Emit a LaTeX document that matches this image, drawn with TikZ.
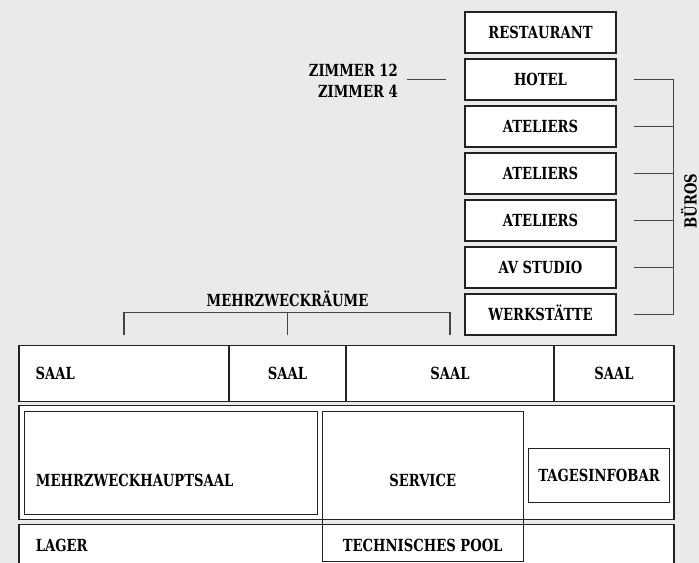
\documentclass[tikz,border=0pt]{standalone}
\usepackage{fontspec}
\setmainfont{DejaVu Serif}[FakeStretch=0.79]
\usetikzlibrary{calc}

\definecolor{hintergrund}{HTML}{EAEAEA}
\definecolor{linie}{HTML}{222222}
\definecolor{klammerlinie}{HTML}{444444}

\tikzset{
	mass/.style 2 args={minimum width=#1*0.75pt, minimum height=#2*0.75pt},
	raum/.style={draw=linie, fill=white, line width=0.8pt, inner sep=0pt,
		font=\bfseries\fontsize{12.5}{14}\selectfont, text height=9pt, text depth=0pt},
	schrift/.style={font=\bfseries\fontsize{12.5}{14}\selectfont, inner sep=0pt,
		text height=9pt, text depth=0pt},
	klammer/.style={draw=klammerlinie, line width=0.8pt},
}

\begin{document}
\begin{tikzpicture}[x=0.75pt, y=-0.75pt]
	\fill[hintergrund] (0,0) rectangle (699,563);
	\useasboundingbox (0,0) rectangle (699,563);

	% rechte Spalte
	\node[raum, mass={151}{41}] (restaurant) at (540.5,32.5) {RESTAURANT};
	\node[raum, mass={151}{41}] (hotel) at (540.5,79.5) {HOTEL};
	\node[raum, mass={151}{41}] (atelierA) at (540.5,126.5) {ATELIERS};
	\node[raum, mass={151}{41}] (atelierB) at (540.5,173.5) {ATELIERS};
	\node[raum, mass={151}{41}] (atelierC) at (540.5,220.5) {ATELIERS};
	\node[raum, mass={151}{41}] (avstudio) at (540.5,267.5) {AV STUDIO};
	\node[raum, mass={151}{41}] (werkstatt) at (540.5,314.5) {WERKSTÄTTE};

	\node[font=\bfseries\fontsize{12.5}{15.5}\selectfont, inner sep=0pt, align=right, anchor=east] (zimmer) at (398,81) {ZIMMER 12\\ZIMMER 4};
	\draw[klammer] ($(hotel.west)+(-57,0)$) -- ($(hotel.west)+(-18,0)$);

	% Klammer Bueros
	\coordinate (bOben) at ($(hotel.east)+(57,0)$);
	\coordinate (bUnten) at ($(werkstatt.east)+(57,0)$);
	\draw[klammer] (bOben) -- (bUnten);
	\draw[klammer] ($(hotel.east)+(17,0)$) -- (bOben);
	\draw[klammer] ($(atelierA.east)+(17,0)$) -- ($(atelierA.east)+(57,0)$);
	\draw[klammer] ($(atelierB.east)+(17,0)$) -- ($(atelierB.east)+(57,0)$);
	\draw[klammer] ($(atelierC.east)+(17,0)$) -- ($(atelierC.east)+(57,0)$);
	\draw[klammer] ($(avstudio.east)+(17,0)$) -- ($(avstudio.east)+(57,0)$);
	\draw[klammer] ($(werkstatt.east)+(17,0)$) -- (bUnten);
	\node[schrift, rotate=90] (bueros) at ($($(bOben)!0.5!(bUnten)$)+(17,4)$) {BÜROS};

	% Saele
	\node[raum, mass={210}{55.3}] (saalA) at (124,373.4) {};
	\node[raum, mass={117}{55.3}] (saalB) at (287.5,373.4) {SAAL};
	\node[raum, mass={208}{55.3}] (saalC) at (450,373.4) {SAAL};
	\node[raum, mass={120}{55.3}] (saalD) at (614,373.4) {SAAL};
	\node[schrift, anchor=west] (saalAtext) at ($(saalA.west)+(17,0)$) {SAAL};

	\draw[klammer] ($(saalA.north)+(0,-10)$) |- ($(saalC.north)+(0,-33)$) -- ($(saalC.north)+(0,-10)$);
	\draw[klammer] ($(saalB.north)+(0,-10)$) -- ($(saalB.north)+(0,-33)$);
	\node[schrift] (mehrzweck) at ($(saalB.north)+(0,-45)$) {MEHRZWECKRÄUME};

	% Erdgeschoss
	\node[raum, mass={655}{113.6}] (mitte) at (346.5,462.5) {};
	\node[raum, mass={655}{75.3}] (lager) at (346.5,562.4) {};
	\node[schrift, anchor=west] (lagertext) at (35.7,545) {LAGER};
	\node[raum, mass={293}{102.6}] (hauptsaal) at (171,463) {};
	\node[schrift, anchor=west] (hauptsaaltext) at (35.7,480.7) {MEHRZWECKHAUPTSAAL};
	\node[raum, mass={141.3}{54}] (tagesinfo) at (599,475.7) {TAGESINFOBAR};
	\node[raum, fill=none, mass={200.7}{149.6}] (service) at (422.7,486.5) {};
	\node[schrift] (servicetext) at (422.7,480.7) {SERVICE};
	\node[schrift] (pooltext) at (422.7,545) {TECHNISCHES POOL};
\end{tikzpicture}
\end{document}
